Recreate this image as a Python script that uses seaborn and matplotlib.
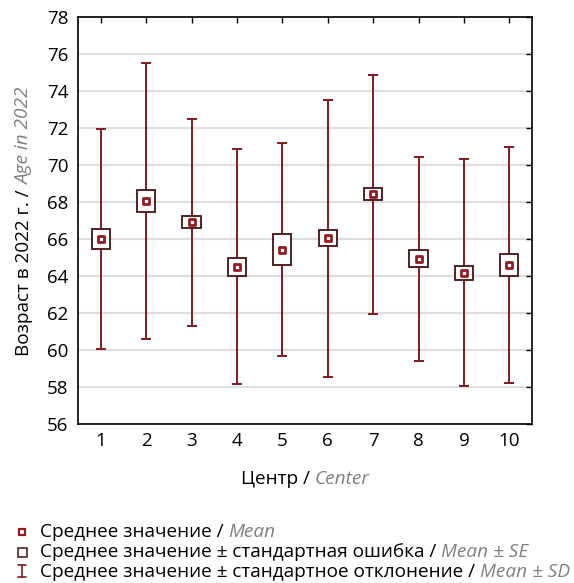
import matplotlib
matplotlib.use("Agg")
import matplotlib.pyplot as plt
import pandas as pd
import seaborn as sns
from matplotlib.patches import Rectangle
from matplotlib.lines import Line2D
from matplotlib.transforms import IdentityTransform

# Age in 2022 by centre: mean, standard error and standard deviation
centers = [1, 2, 3, 4, 5, 6, 7, 8, 9, 10]
mean_age = [66.0, 68.05, 66.9, 64.5, 65.43, 66.03, 68.42, 64.92, 64.18, 64.59]
se_age = [0.55, 0.60, 0.33, 0.50, 0.86, 0.43, 0.33, 0.46, 0.385, 0.575]
sd_age = [5.95, 7.45, 5.60, 6.35, 5.77, 7.50, 6.47, 5.53, 6.15, 6.39]
y_ticks = list(range(56, 79, 2))

x_title = ("Центр /", "Center")
y_title = ("Возраст в 2022 г. /", "Age in 2022")
legend_rows = [
    ("Среднее значение /", "Mean"),
    ("Среднее значение ± стандартная ошибка /", "Mean ± SE"),
    ("Среднее значение ± стандартное отклонение /", "Mean ± SD"),
]

W, H = 574, 583
BAR = "#821a20"
BOX = "#461010"
MEAN = "#921c22"
GREY = "#808080"

sns.set_style("white")
plt.rcParams["font.family"] = ["Open Sans", "DejaVu Sans"]

fig = plt.figure(figsize=(W / 100, H / 100), dpi=100)
fig.patch.set_facecolor("white")


def fx(px):
    return px / W


def fy(py):
    return 1 - py / H


ax = fig.add_axes([fx(78), fy(424), (532 - 78) / W, (424 - 17) / H])

df = pd.DataFrame({"center": centers, "mean": mean_age, "se": se_age, "sd": sd_age})

# standard deviation whiskers
ax.errorbar(df["center"], df["mean"], yerr=df["sd"], fmt="none", ecolor=BAR,
            elinewidth=1.4, capsize=3.6, capthick=1.4, zorder=2)

# standard error boxes
for c, m, s in zip(df["center"], df["mean"], df["se"]):
    ax.add_patch(Rectangle((c - 0.2, m - s), 0.4, 2 * s, facecolor="white",
                           edgecolor=BOX, linewidth=1.3, zorder=3))

# means
sns.scatterplot(data=df, x="center", y="mean", marker="s", s=14,
                color="white", edgecolor=MEAN, linewidth=2.0, zorder=4,
                ax=ax, legend=False)

ax.set_xlim(0.5, 10.5)
ax.set_ylim(56, 78)
ax.set_xticks(centers)
ax.set_yticks(y_ticks)
ax.set_xlabel("")
ax.set_ylabel("")
ax.yaxis.grid(True, color="#dedede", linewidth=1.5)
ax.xaxis.grid(False)
ax.set_axisbelow(True)
for sp in ax.spines.values():
    sp.set_visible(True)
    sp.set_color("black")
    sp.set_linewidth(1.2)
ax.tick_params(axis="both", direction="in", length=4, width=1.0,
               top=True, right=True, labelsize=13.5, colors="black")
ax.tick_params(axis="x", pad=6)
ax.tick_params(axis="y", pad=7)

# ---- mixed-style text runs -------------------------------------------------
renderer = fig.canvas.get_renderer()


def run_width(text, size, style):
    t = fig.text(0, 0, text, fontsize=size, style=style, transform=IdentityTransform())
    bb = t.get_window_extent(renderer)
    t.remove()
    return bb.width


def gap_width(size, style):
    return run_width("n n", size, style) - run_width("nn", size, style)


def runs_total(parts, size):
    total = 0
    for i, (s, _, st) in enumerate(parts):
        total += run_width(s, size, st)
        if i:
            total += gap_width(size, st)
    return total


def place_runs(parts, start, base, size, vertical=False):
    pos = start
    for i, (s, color, st) in enumerate(parts):
        if i:
            pos += gap_width(size, st)
        w = run_width(s, size, st)
        if vertical:
            fig.text(base, pos, s, fontsize=size, color=color, style=st,
                     rotation=90, rotation_mode="anchor", ha="left", va="baseline",
                     transform=IdentityTransform())
        else:
            fig.text(pos, base, s, fontsize=size, color=color, style=st,
                     ha="left", va="baseline", transform=IdentityTransform())
        pos += w


def styled(pair):
    return [(pair[0], "black", "normal"), (pair[1], GREY, "italic")]


# font size chosen so the longest legend line spans its row
base_size = 13.0
longest = styled(legend_rows[2])
size = base_size * (571 - 40) / runs_total(longest, base_size)

# x title centred under the axes
xt = styled(x_title)
tw = runs_total(xt, size)
place_runs(xt, (78 + 532) / 2 - tw / 2, H - 484, size)

# y title centred along the axes
yt = styled(y_title)
th = runs_total(yt, size)
place_runs(yt, (H - 222) - th / 2, 29, size, vertical=True)

# legend rows
baselines = [537, 557, 577]
for row, b in zip(legend_rows, baselines):
    place_runs(styled(row), 40, H - b, size)

# legend symbols
fig.add_artist(Line2D([fx(22)], [fy(532)], marker="s", markersize=4.4,
                      markerfacecolor="white", markeredgecolor=MEAN,
                      markeredgewidth=1.6, linestyle="none", transform=fig.transFigure))
fig.add_artist(Rectangle((fx(17.5), fy(556.5)), 9 / W, 9 / H, facecolor="white",
                         edgecolor=BOX, linewidth=1.1, transform=fig.transFigure))
fig.add_artist(Line2D([fx(22), fx(22)], [fy(565), fy(577)], color=BAR, lw=1.2,
                      transform=fig.transFigure))
for cy in (565, 577):
    fig.add_artist(Line2D([fx(18), fx(26)], [fy(cy), fy(cy)], color=BAR, lw=1.2,
                          transform=fig.transFigure))

fig.savefig("out.png", dpi=100, facecolor="white")
